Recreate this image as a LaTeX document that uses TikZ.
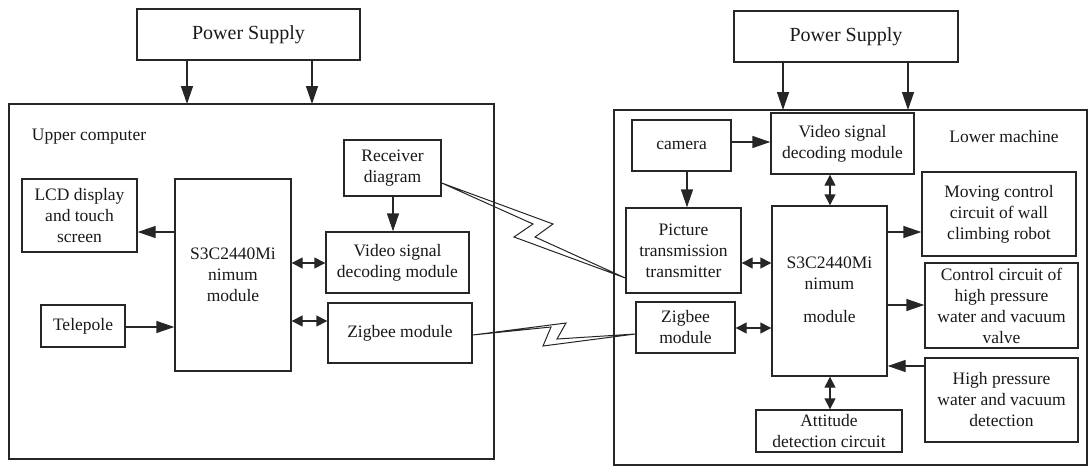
\documentclass[tikz,border=0pt]{standalone}
\usepackage{fontspec}
\setmainfont{Liberation Serif}
\newfontfamily\dgserif{Liberation Serif}
\usetikzlibrary{arrows.meta,calc}
\begin{document}
\begin{tikzpicture}[x={(1pt,0)},y={(0,-1pt)},
  every node/.style={text=black!90},
  box/.style={draw=black!85,line width=1.4pt,rectangle,inner sep=0pt,align=center,
    font=\dgserif\fontsize{17.5}{21}\selectfont},
  psbox/.style={box,font=\dgserif\fontsize{20}{24}\selectfont},
  frame/.style={draw=black!85,line width=1.5pt},
  lbl/.style={inner sep=0pt,font=\dgserif\fontsize{17.5}{21}\selectfont},
  arr/.style={draw=black!85,line width=1.4pt,-{Triangle[length=18pt,width=12pt]}},
  darr/.style={draw=black!85,line width=1.4pt,{Triangle[length=11pt,width=11pt]}-{Triangle[length=11pt,width=11pt]}},
  bolt/.style={draw=black!85,line width=1pt,line join=miter}]
\useasboundingbox (0,0) rectangle (1088,466);

% ---------- left side ----------
\node[psbox,minimum width=223pt,minimum height=51pt] (ps1) at (248.5,34.5) {Power Supply};
\draw[frame] (9,104) rectangle (494,459);
\coordinate (upTop) at (250,104);
\node[lbl] (upLbl) at (89,137) {Upper computer};

\node[box,minimum width=115pt,minimum height=73pt] (lcd) at (79.5,215.5) {LCD display\\and touch\\screen};
\node[box,minimum width=116pt,minimum height=192pt] (s3cL) at (233,275) {S3C2440Mi\\nimum\\module};
\node[box,minimum width=97pt,minimum height=56pt] (recv) at (392.5,168) {Receiver\\diagram};
\node[box,minimum width=143pt,minimum height=61pt] (vidL) at (397.5,262.5) {Video signal\\decoding module};
\node[box,minimum width=144pt,minimum height=60pt] (zigL) at (400,333) {Zigbee module};
\node[box,minimum width=84pt,minimum height=42pt] (tele) at (83,326) {Telepole};

\draw[arr] (ps1.south -| 187,0) -- (upTop -| 187,0);
\draw[arr] (ps1.south -| 312,0) -- (upTop -| 312,0);
\draw[arr] (s3cL.west |- 0,232) -- (lcd.east |- 0,232);
\draw[arr] (tele.east |- 0,327) -- (s3cL.west |- 0,327);
\draw[darr] (s3cL.east |- 0,263) -- (vidL.west |- 0,263);
\draw[darr] (s3cL.east |- 0,321) -- (zigL.west |- 0,321);
\draw[arr] (recv.south -| 393,0) -- (vidL.north -| 393,0);

% ---------- right side ----------
\node[psbox,minimum width=224pt,minimum height=51pt] (ps2) at (846,36.5) {Power Supply};
\draw[frame] (614,110) rectangle (1087,465);
\coordinate (loTop) at (850,110);
\node[lbl] (loLbl) at (1004,137) {Lower machine};

\node[box,minimum width=99pt,minimum height=51pt] (cam) at (681.5,145.5) {camera};
\node[box,minimum width=143pt,minimum height=61pt] (vidR) at (842.5,143.5) {Video signal\\decoding module};
\node[box,minimum width=154pt,minimum height=84pt] (mov) at (999,214) {Moving control\\circuit of wall\\climbing robot};
\node[box,minimum width=115pt,minimum height=85pt] (pic) at (683.5,250.5) {Picture\\transmission\\transmitter};
\node[box,minimum width=115pt,minimum height=170pt] (s3cR) at (829.5,291) {};
\node[lbl,align=center] (s3cRt) at (829.5,290) {S3C2440Mi\\nimum\\[12pt]module};
\node[box,minimum width=153pt,minimum height=85pt] (ctl) at (1001.5,305.5) {Control circuit of\\high pressure\\water and vacuum\\valve};
\node[box,minimum width=99pt,minimum height=51pt] (zigR) at (685.5,327.5) {Zigbee\\module};
\node[box,minimum width=153pt,minimum height=84pt] (hp) at (1001.5,400) {High pressure\\water and vacuum\\detection};
\node[box,minimum width=146pt,minimum height=42pt] (att) at (829,431) {Attitude\\detection circuit};

\draw[arr] (ps2.south -| 783,0) -- (loTop -| 783,0);
\draw[arr] (ps2.south -| 908,0) -- (loTop -| 908,0);
\draw[arr] (cam.east |- 0,142) -- (vidR.west |- 0,142);
\draw[arr] (cam.south -| 687,0) -- (pic.north -| 687,0);
\draw[darr] (vidR.south -| 830,0) -- (s3cR.north -| 830,0);
\draw[arr] (s3cR.east |- 0,232) -- (mov.west |- 0,232);
\draw[darr] (pic.east |- 0,263) -- (s3cR.west |- 0,263);
\draw[arr] (s3cR.east |- 0,305) -- (ctl.west |- 0,305);
\draw[darr] (zigR.east |- 0,328) -- (s3cR.west |- 0,328);
\draw[arr] (hp.west |- 0,366) -- (s3cR.east |- 0,366);
\draw[darr] (s3cR.south -| 830,0) -- (att.north -| 830,0);

% ---------- wireless links ----------
\coordinate (b1s) at (recv.east |- 0,183);
\coordinate (b1e) at (pic.west |- 0,278);
\draw[bolt] (b1s) -- (553,224) -- (535,237) -- (b1e) -- (514,237) -- (533,224) -- cycle;
\coordinate (b2s) at (zigL.east |- 0,335);
\coordinate (b2e) at (zigR.west |- 0,334);
\draw[bolt] (b2s) -- (566,323) -- (557,339) -- (b2e) -- (543,346) -- (551,327) -- cycle;
\end{tikzpicture}
\end{document}
